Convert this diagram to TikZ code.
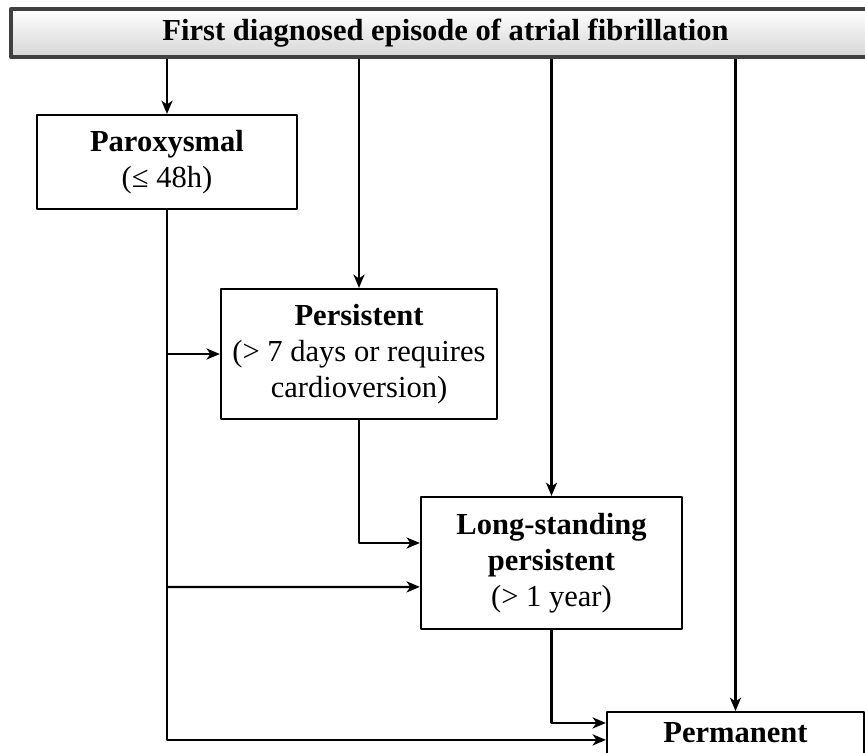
\documentclass[tikz,border=0pt]{standalone}
\usepackage{fontspec}
\setmainfont{Liberation Serif}
\usetikzlibrary{arrows.meta}
\begin{document}
\begin{tikzpicture} [x=.36pt, y=-.36pt, font=\fontsize{11}{13}\selectfont, line join=round, >={Stealth[length=4.8pt, width=4pt, inset=1.4pt]},
  box/.style={draw, line width=.8pt, align=center, inner sep=2pt},
  link/.style={->, line width=.8pt}]
 \useasboundingbox (0,0) rectangle (865,753);
 \node[draw=black!75, line width=1.2pt, top color=white, bottom color=gray!32, minimum width=312.8pt, minimum height=17.3pt, inner sep=0pt] (first) at (445.5,33) {\textbf{First diagnosed episode of atrial fibrillation}};
 \node[box, minimum width=93.6pt, minimum height=33.8pt] (parox) at (167,162) {\textbf{Paroxysmal}\\(≤ 48h)};
 \node[box, minimum width=99.4pt, minimum height=46.8pt] (persist) at (359,354) {\textbf{Persistent}\\(> 7 days or requires\\cardioversion)};
 \node[box, minimum width=94pt, minimum height=47.5pt] (longst) at (551.5,563) {\textbf{Long-standing}\\\textbf{persistent}\\(> 1 year)};
 \node[box, anchor=north, minimum width=92.5pt, inner ysep=3pt, text height=8pt, text depth=12pt] (perm) at (735.5,711) {\textbf{Permanent}};
 \draw[link] (first.south -| parox.north) -- (parox.north);
 \draw[link] (first.south -| persist.north) -- (persist.north);
 \draw[link] (first.south -| longst.north) -- (longst.north);
 \draw[link] (first.south -| perm.north) -- (perm.north);
 \draw[link] (parox.south) |- ([yshift=-10.4pt]perm.north west);
 \draw[link] (parox.south |- persist.west) -- (persist.west);
 \draw[link] (parox.south |- 0,587) -- ([yshift=-8.6pt]longst.west);
 \draw[link] (persist.south) |- ([yshift=7.2pt]longst.west);
 \draw[link] (longst.south) |- ([yshift=-4.3pt]perm.north west);
\end{tikzpicture}
\end{document}
